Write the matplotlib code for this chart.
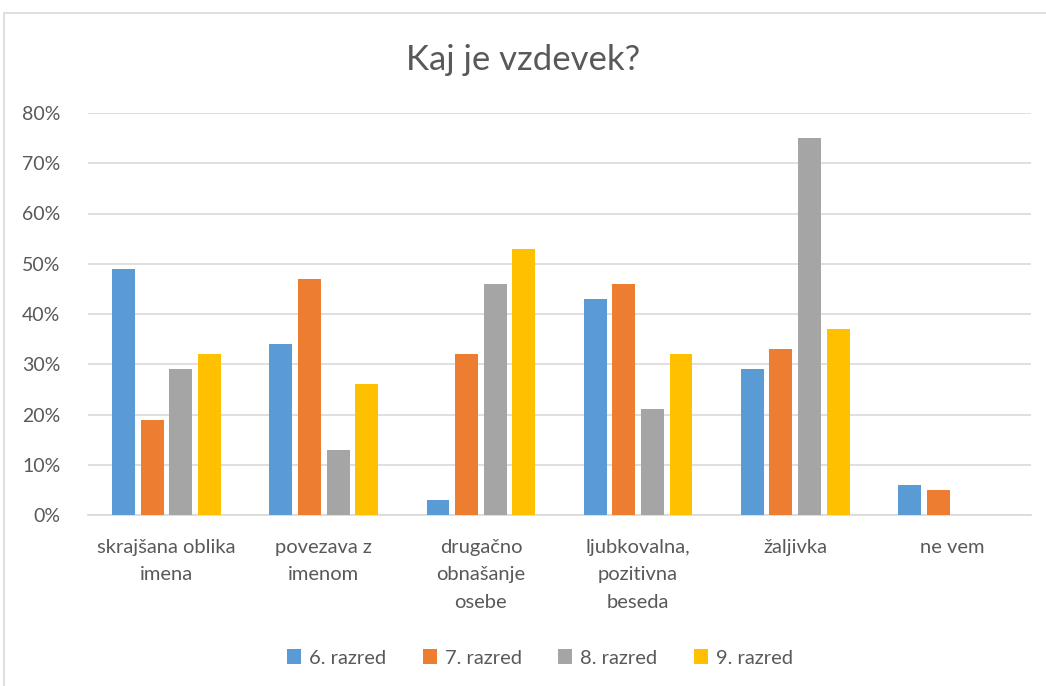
import matplotlib
matplotlib.use("Agg")
import matplotlib.pyplot as plt
from matplotlib.patches import Rectangle
import numpy as np

categories = ["skrajšana oblika\nimena", "povezava z\nimenom", "drugačno\nobnašanje\nosebe",
              "ljubkovalna,\npozitivna\nbeseda", "žaljivka", "ne vem"]
series_names = ["6. razred", "7. razred", "8. razred", "9. razred"]
razred6 = [49, 34, 3, 43, 29, 6]
razred7 = [19, 47, 32, 46, 33, 5]
razred8 = [29, 13, 46, 21, 75, 0]
razred9 = [32, 26, 53, 32, 37, 0]
colors = ["#5B9BD5", "#ED7D31", "#A5A5A5", "#FFC000"]

plt.rcParams["font.family"] = ["Lato", "DejaVu Sans"]
text_color = "#595959"

fig = plt.figure(figsize=(10.46, 6.86), dpi=100)
fig.patches.append(Rectangle((4 / 1046, -0.1), 1.2, (686 - 13) / 686 + 0.1,
                             transform=fig.transFigure, fill=False,
                             edgecolor="#d9d9d9", linewidth=1.2))
ax = fig.add_axes([88 / 1046, (686 - 515) / 686, (1031 - 88) / 1046, (515 - 113) / 686])

x = np.arange(len(categories))
step = 0.182
width = 0.146
for i, (vals, name) in enumerate(zip([razred6, razred7, razred8, razred9], series_names)):
    ax.bar(x + (i - 1.5) * step, vals, width, color=colors[i], label=name, zorder=3)

ax.set_xlim(-0.5, len(categories) - 0.5)
ax.set_ylim(0, 80)
ax.set_yticks(range(0, 81, 10))
ax.set_yticklabels([f"{v}%" for v in range(0, 81, 10)], fontsize=14, color=text_color)
ax.set_xticks(x)
ax.set_xticklabels(categories, fontsize=14.5, color=text_color, linespacing=1.75, va="top")
ax.tick_params(length=0, pad=17)
ax.tick_params(axis="y", pad=20)
ax.grid(axis="y", color="#d9d9d9", linewidth=1.2, zorder=0)
for s in ["top", "right", "left"]:
    ax.spines[s].set_visible(False)
ax.spines["bottom"].set_color("#d9d9d9")
ax.spines["bottom"].set_linewidth(1.2)

fig.text(0.5, 1 - 60 / 686, "Kaj je vzdevek?", ha="center", va="center",
         fontsize=25, color=text_color)

fig.legend(loc="center", bbox_to_anchor=(540 / 1046, 1 - 658 / 686), ncol=4,
           frameon=False, fontsize=14.5, labelcolor=text_color, handlelength=0.7,
           handleheight=0.7, handletextpad=0.4, columnspacing=1.8)

fig.savefig("out.png", dpi=100)
